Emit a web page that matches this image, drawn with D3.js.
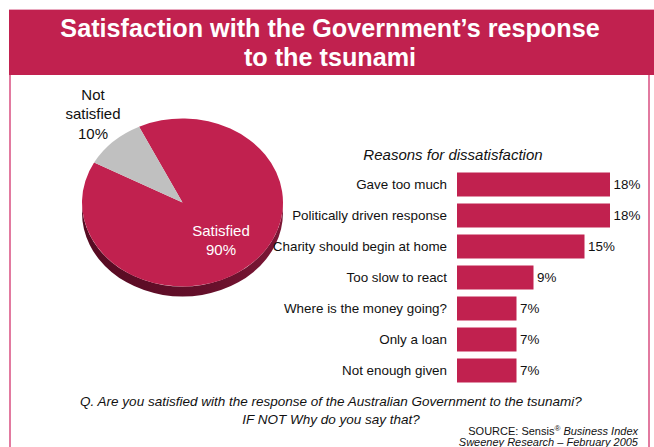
<!DOCTYPE html>
<html>
<head>
<meta charset="utf-8">
<script src="https://cdn.jsdelivr.net/npm/d3@7"></script>
<style>
  html, body { margin: 0; padding: 0; background: #fff; }
  svg { display: block; font-family: "Liberation Sans", Arial, sans-serif; }
</style>
</head>
<body>
<svg id="chart" width="654" height="447"></svg>
<script>
// Overall satisfaction split
const pieLabels = ["Satisfied", "Not satisfied"];
const pieValues = [90, 10];

// Reasons for dissatisfaction
const reasons = [
  "Gave too much",
  "Politically driven response",
  "Charity should begin at home",
  "Too slow to react",
  "Where is the money going?",
  "Only a loan",
  "Not enough given"
];
const reasonValues = [18, 18, 15, 9, 7, 7, 7];

const titleLines = ["Satisfaction with the Government\u2019s response", "to the tsunami"];
const questionLines = [
  "Q. Are you satisfied with the response of the Australian Government to the tsunami?",
  "IF NOT Why do you say that?"
];

const RED = "#C1214F";
const GREY = "#C0C0C0";
const BORDER = "#E27AA0";

const svg = d3.select("#chart");

// Frame
svg.append("rect").attr("x", 9).attr("y", 9).attr("width", 645).attr("height", 1).attr("fill", "#E9A9BF");
svg.append("rect").attr("x", 9).attr("y", 10).attr("width", 645).attr("height", 65).attr("fill", RED);
svg.append("rect").attr("x", 9).attr("y", 75).attr("width", 2).attr("height", 372).attr("fill", BORDER);
svg.append("rect").attr("x", 648).attr("y", 75).attr("width", 2).attr("height", 372).attr("fill", BORDER);

// Title
svg.selectAll("text.title").data(titleLines).join("text")
  .attr("class", "title")
  .attr("x", 330).attr("y", (d, i) => 36.5 + i * 29)
  .attr("text-anchor", "middle")
  .attr("fill", "#fff").attr("font-weight", "bold").attr("font-size", 25.2)
  .text(d => d);

// ---- 3D pie ----
const cx = 182.5, cy = 202.5, rx = 100.5, ry = 84, depth = 10;
const tilt = ry / rx;

const defs = svg.append("defs");
const grad = defs.append("linearGradient").attr("id", "side").attr("x1", "0").attr("x2", "1").attr("y1", "0").attr("y2", "0");
grad.append("stop").attr("offset", "0").attr("stop-color", "#560b22");
grad.append("stop").attr("offset", "0.6").attr("stop-color", "#640f2a");
grad.append("stop").attr("offset", "1").attr("stop-color", "#7d1736");

// Side wall of the tilted disc
const sidePath = `M${cx - rx},${cy} L${cx - rx},${cy + depth} A${rx},${ry} 0 0 0 ${cx + rx},${cy + depth} L${cx + rx},${cy} A${rx},${ry} 0 0 1 ${cx - rx},${cy} Z`;
svg.append("path").attr("d", sidePath).attr("fill", "url(#side)");

const startDeg = -25.6;
const pie = d3.pie().sort(null)
  .startAngle(startDeg * Math.PI / 180)
  .endAngle((startDeg + 360) * Math.PI / 180);
const arcs = pie(pieValues);
const arc = d3.arc().innerRadius(0).outerRadius(rx);

svg.append("g")
  .attr("transform", `translate(${cx},${cy}) scale(1,${tilt})`)
  .selectAll("path").data(arcs).join("path")
  .attr("d", arc)
  .attr("fill", (d, i) => i === 0 ? RED : GREY);

// Pie labels
svg.append("text").attr("x", 221).attr("y", 236).attr("text-anchor", "middle")
  .attr("fill", "#fff").attr("font-size", 15).text(pieLabels[0]);
svg.append("text").attr("x", 221).attr("y", 254.5).attr("text-anchor", "middle")
  .attr("fill", "#fff").attr("font-size", 15).text(pieValues[0] + "%");

const notLines = ["Not", "satisfied", pieValues[1] + "%"];
svg.selectAll("text.notsat").data(notLines).join("text")
  .attr("class", "notsat")
  .attr("x", 93).attr("y", (d, i) => 99.5 + i * 19.5)
  .attr("text-anchor", "middle").attr("fill", "#111").attr("font-size", 15)
  .text(d => d);

// ---- Bar chart ----
const x = d3.scaleLinear().domain([0, 18]).range([457, 610]);
const y = d3.scaleBand().domain(reasons).range([169, 386]).paddingInner(0.226).paddingOuter(0.113);

svg.append("text").attr("x", 453).attr("y", 160).attr("text-anchor", "middle")
  .attr("font-style", "italic").attr("font-size", 15).attr("fill", "#111")
  .text("Reasons for dissatisfaction");

const bars = svg.append("g");
bars.selectAll("rect").data(reasons).join("rect")
  .attr("x", x(0))
  .attr("y", d => y(d))
  .attr("width", (d, i) => x(reasonValues[i]) - x(0))
  .attr("height", y.bandwidth())
  .attr("fill", RED);

bars.selectAll("text.cat").data(reasons).join("text")
  .attr("class", "cat")
  .attr("x", 447)
  .attr("y", d => y(d) + y.bandwidth() / 2)
  .attr("dy", "0.36em")
  .attr("text-anchor", "end").attr("font-size", 13.4).attr("fill", "#111")
  .text(d => d);

bars.selectAll("text.val").data(reasons).join("text")
  .attr("class", "val")
  .attr("x", (d, i) => x(reasonValues[i]) + 3.5)
  .attr("y", d => y(d) + y.bandwidth() / 2)
  .attr("dy", "0.36em")
  .attr("font-size", 13.4).attr("fill", "#111")
  .text((d, i) => reasonValues[i] + "%");

// ---- Question and source ----
svg.selectAll("text.q").data(questionLines).join("text")
  .attr("class", "q")
  .attr("x", 331).attr("y", (d, i) => 406 + i * 17.5)
  .attr("text-anchor", "middle").attr("font-style", "italic")
  .attr("font-size", 13.5).attr("fill", "#111")
  .text(d => d);

const src = svg.append("text").attr("x", 638).attr("y", 434.5)
  .attr("text-anchor", "end").attr("font-size", 11).attr("fill", "#111");
src.append("tspan").text("SOURCE: Sensis");
src.append("tspan").attr("font-size", 8).attr("dy", -4).text("\u00AE");
src.append("tspan").attr("dy", 4).attr("font-style", "italic").text(" Business Index");

svg.append("text").attr("x", 638).attr("y", 446)
  .attr("text-anchor", "end").attr("font-size", 11).attr("font-style", "italic").attr("fill", "#111")
  .text("Sweeney Research \u2013 February 2005");
</script>
</body>
</html>
